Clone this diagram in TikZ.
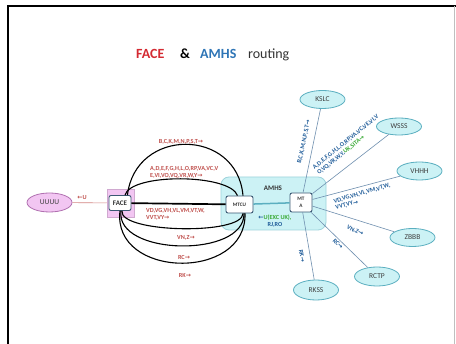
\documentclass[tikz,border=0pt]{standalone}
\usepackage{fontspec}
\setmainfont{Carlito}
\newfontfamily\symfont{DejaVu Sans}
\usetikzlibrary{shapes.geometric}
\definecolor{titlered}{HTML}{D42A32}
\definecolor{titleblue}{HTML}{2E75B6}
\definecolor{labred}{HTML}{C0504D}
\definecolor{labblue}{HTML}{1F5C99}
\definecolor{labgreen}{HTML}{3AAA35}
\definecolor{cyanfill}{HTML}{CCF2F5}
\definecolor{cyanedge}{HTML}{5BAFC0}
\definecolor{amhsedge}{HTML}{9ED3DC}
\definecolor{pinkfill}{HTML}{F2C6F2}
\definecolor{pinkedge}{HTML}{B070B0}
\definecolor{boxedge}{HTML}{3B5873}
\definecolor{spokec}{HTML}{6F8FAF}
\newcommand\ra{{\symfont →}}
\newcommand\la{{\symfont ←}}
\begin{document}
\begin{tikzpicture}[x=1pt,y=-1pt,
  ell/.style={ellipse, draw=cyanedge, fill=cyanfill, line width=0.8pt, minimum width=45pt, minimum height=18pt, inner sep=0pt, font=\fontsize{7.5}{8}\selectfont, text=black!75},
  boxnode/.style={rectangle, rounded corners=2pt, draw=boxedge, fill=white, line width=0.9pt, inner sep=0pt, font=\bfseries, text=black!80, align=center},
  curve/.style={draw=black, line width=1.1pt},
  spoke/.style={draw=spokec, line width=0.6pt},
  redlab/.style={font=\bfseries\fontsize{6.2}{7}\selectfont, text=labred, inner sep=0pt, align=left},
  bluelab/.style={font=\bfseries\fontsize{6.2}{7}\selectfont, text=labblue, inner sep=0pt, align=left},
  titlefont/.style={font=\fontsize{14}{16}\selectfont, inner sep=0pt, anchor=base west}
]
\useasboundingbox (0,0) rectangle (456,344);
\fill[white] (0,0) rectangle (456,344);
\draw[line width=1.5pt] (8,344) -- (8,6) -- (456,6);
\draw[black!25, line width=0.6pt] (454,6) -- (454,344);

% title
\node[titlefont, text=titlered, font=\fontsize{14}{16}\selectfont\bfseries] (t1) at (136,59) {FACE};
\node[titlefont, text=black, font=\fontsize{14}{16}\selectfont\bfseries] (t2) at (180,59) {\&};
\node[titlefont, text=titleblue, font=\fontsize{14}{16}\selectfont\bfseries] (t3) at (200,59) {AMHS};
\node[titlefont, text=black!80] (t4) at (248,59) {routing};

% background shapes
\node[draw=amhsedge, fill=cyanfill, rounded corners=8pt, line width=0.8pt, minimum width=105pt, minimum height=53pt, inner sep=0pt] (amhs) at (273.5,203.5) {};
\node[font=\bfseries\fontsize{7}{8}\selectfont, text=black!80, inner sep=0pt] (amhslab) at (273,188) {AMHS};
\node[draw=pinkedge!60, fill=pinkfill, line width=0.5pt, minimum width=27pt, minimum height=28pt, inner sep=0pt] (facebg) at (120.5,203) {};

% nodes
\node[ell, draw=pinkedge, fill=pinkfill, minimum height=19pt] (uuuu) at (49.5,202.5) {UUUU};
\node[boxnode, minimum width=22pt, minimum height=15pt, font=\bfseries\fontsize{7}{8}\selectfont] (face) at (120,203) {FACE};
\node[boxnode, minimum width=27pt, minimum height=17pt, font=\bfseries\fontsize{5.2}{6}\selectfont] (mtcu) at (239.5,204.5) {MTCU};
\node[boxnode, minimum width=22pt, minimum height=19pt, font=\bfseries\fontsize{5.2}{7}\selectfont] (mta) at (301,202.5) {MT\\A};

\node[ell] (kslc) at (322.5,99.5) {KSLC};
\node[ell, minimum height=17pt] (wsss) at (399,126.5) {WSSS};
\node[ell] (vhhh) at (419.5,171) {VHHH};
\node[ell] (zbbb) at (412.5,237.5) {ZBBB};
\node[ell, minimum height=19pt] (rctp) at (377,276.5) {RCTP};
\node[ell, minimum height=20pt] (rkss) at (316,290) {RKSS};

% connectors
\draw[labred!70, line width=0.6pt] (uuuu) -- (facebg);
\draw[draw=cyanedge, line width=1.5pt] (mtcu) -- (mta);
\draw[line width=1.7pt] (face) -- (mtcu);

\draw[curve] ([xshift=-4pt]face.north east) .. controls +(8,-68) and +(-6,-68) .. ([xshift=3.5pt]mtcu.north);
\draw[curve] ([xshift=5pt]face.north) .. controls +(6,-22) and +(-8,-22) .. ([xshift=-2pt]mtcu.north);
\draw[curve] ([xshift=2pt]face.south) .. controls +(-3,22) and +(0,22) .. ([xshift=3.5pt]mtcu.south);
\draw[curve] ([xshift=1pt]face.south) .. controls +(-6,45) and +(1,45) .. ([xshift=4.5pt]mtcu.south);
\draw[curve] ([xshift=0pt]face.south) .. controls +(-8,68) and +(2,68) .. ([xshift=5.5pt]mtcu.south);

\draw[spoke] (mta) -- (kslc);
\draw[spoke] (mta) -- (wsss);
\draw[spoke] (mta) -- (vhhh);
\draw[spoke] (mta) -- (zbbb);
\draw[spoke] (mta) -- (rctp);
\draw[spoke] (mta) -- (rkss);

% red labels
\node[redlab] (lu) at (82,198) {\la U};
\node[redlab] (l1) at (181,142) {B,C,K,M,N,P,S,T\ra};
\node[redlab, anchor=west] (l2) at (150,172) {A,D,E,F,G,H,L,O,RP,VA,VC,V\\E,VI,VO,VQ,VR,W,Y\ra};
\node[redlab, anchor=west] (l3) at (146,214.5) {VD,VG,VH,VL,VM,VT,W,\\VVT,VY\ra};
\node[redlab] (l4) at (186,238) {VN,Z\ra};
\node[redlab] (l5) at (184,257) {RC\ra};
\node[redlab] (l6) at (185,275.5) {RK\ra};

% blue labels
\node[bluelab, rotate=78] (b1) at (304,142) {B,C,K,M,N,P,S,T\ra};
\node[bluelab, rotate=39] (b2) at (348,145) {A,D,E,F,G,H,L,O,RP,VA,VC,VE,VI,V\\O,VQ,VR,W,Y,\textcolor{labgreen}{UK,SITA\ra}};
\node[bluelab, rotate=16] (b3) at (363,197) {VD,VG,VH,VL,VM,VT,W,\\VVT,VY\ra};
\node[bluelab, rotate=-26] (b4) at (355,231) {VN,Z\ra};
\node[bluelab, rotate=-46] (b5) at (338,244) {RC\ra};
\node[bluelab, rotate=-80] (b6) at (302,256) {RK\ra};
\node[bluelab, align=center] (b7) at (275,221.5) {\la\textcolor{labgreen}{U(EXC UK),}\\RJ,RO};
\end{tikzpicture}
\end{document}
